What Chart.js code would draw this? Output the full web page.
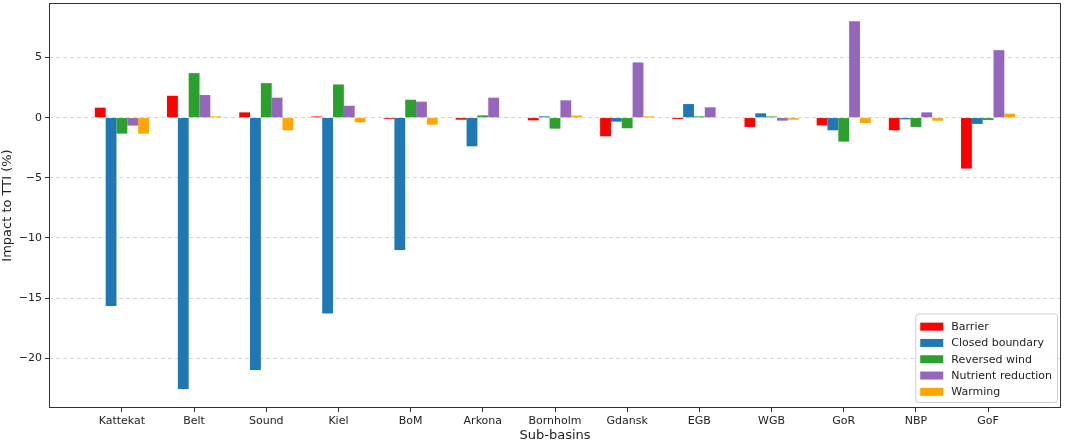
<!DOCTYPE html>
<html>
<head>
<meta charset="utf-8">
<script src="https://cdn.jsdelivr.net/npm/chart.js@4.4.1/dist/chart.umd.min.js"></script>
<style>
  html, body { margin: 0; padding: 0; background: #fff; }
</style>
</head>
<body>
<canvas id="ttiChart" width="1065" height="443"></canvas>
<script>
const subBasins = ["Kattekat", "Belt", "Sound", "Kiel", "BoM", "Arkona", "Bornholm",
  "Gdansk", "EGB", "WGB", "GoR", "NBP", "GoF"];

const barrier         = [0.83, 1.82, 0.44, 0.10, -0.10, -0.17, -0.22, -1.55, -0.11, -0.77, -0.64, -1.05, -4.23];
const closedBoundary  = [-15.65, -22.55, -20.98, -16.28, -11.0, -2.38, 0.11, -0.33, 1.13, 0.36, -1.05, -0.14, -0.52];
const reversedWind    = [-1.33, 3.70, 2.87, 2.76, 1.49, 0.19, -0.91, -0.88, 0.11, 0.10, -1.99, -0.77, -0.19];
const nutrientReduct  = [-0.66, 1.88, 1.66, 0.99, 1.33, 1.66, 1.44, 4.59, 0.86, -0.25, 8.01, 0.44, 5.61];
const warming         = [-1.33, 0.11, -1.05, -0.39, -0.58, 0.02, 0.17, 0.11, 0.03, -0.17, -0.44, -0.25, 0.33];

const yTicks = [-20, -15, -10, -5, 0, 5];

const seriesColors = {
  Barrier: "#ff0000",
  "Closed boundary": "#1f77b4",
  "Reversed wind": "#2ca02c",
  "Nutrient reduction": "#9467bd",
  Warming: "#ffa500"
};

const FONT = "'DejaVu Sans', sans-serif";

function toPoints(values) {
  return values.map((v, i) => ({ x: i, y: v }));
}

function makeDataset(label, values) {
  return {
    label,
    data: toPoints(values),
    backgroundColor: seriesColors[label],
    borderWidth: 0,
    categoryPercentage: 0.75,
    barPercentage: 1.0
  };
}

// box around the plot like matplotlib spines
const framePlugin = {
  id: "frame",
  afterDatasetsDraw(chart) {
    const { ctx, chartArea: a } = chart;
    ctx.save();
    ctx.strokeStyle = "#333";
    ctx.lineWidth = 1;
    ctx.strokeRect(a.left + 0.5, a.top + 0.5, a.right - a.left - 1, a.bottom - a.top - 1);
    ctx.restore();
  }
};

// legend inside the lower right corner
const boxLegend = {
  id: "boxLegend",
  afterDraw(chart) {
    const { ctx, chartArea: a } = chart;
    const sets = chart.data.datasets;
    ctx.save();
    ctx.font = `11px ${FONT}`;
    const maxText = Math.max(...sets.map(d => ctx.measureText(d.label).width));
    const pad = 5, sw = 23, sh = 8, gap = 8, rowH = 16.3;
    const w = pad + sw + gap + maxText + pad;
    const h = pad + rowH * sets.length + 2;
    const x0 = a.right - 4 - w;
    const y0 = a.bottom - 6 - h;

    ctx.fillStyle = "rgba(255,255,255,0.85)";
    ctx.strokeStyle = "#cccccc";
    ctx.lineWidth = 1;
    ctx.beginPath();
    ctx.roundRect(x0 + 0.5, y0 + 0.5, w, h, 3);
    ctx.fill();
    ctx.stroke();

    ctx.textBaseline = "middle";
    sets.forEach((d, i) => {
      const cy = y0 + pad + rowH * i + rowH / 2;
      ctx.fillStyle = d.backgroundColor;
      ctx.fillRect(x0 + pad, cy - sh / 2, sw, sh);
      ctx.fillStyle = "#222";
      ctx.fillText(d.label, x0 + pad + sw + gap, cy + 0.5);
    });
    ctx.restore();
  }
};

new Chart(document.getElementById("ttiChart"), {
  type: "bar",
  data: {
    datasets: [
      makeDataset("Barrier", barrier),
      makeDataset("Closed boundary", closedBoundary),
      makeDataset("Reversed wind", reversedWind),
      makeDataset("Nutrient reduction", nutrientReduct),
      makeDataset("Warming", warming)
    ]
  },
  options: {
    responsive: false,
    animation: false,
    layout: { padding: { top: 3, right: 4, left: 0, bottom: 0 } },
    plugins: {
      legend: { display: false },
      tooltip: { enabled: false }
    },
    scales: {
      x: {
        type: "linear",
        offset: false,
        min: -1.01,
        max: 13.01,
        afterBuildTicks: scale => {
          scale.ticks = subBasins.map((_, i) => ({ value: i }));
        },
        afterFit: scale => {
          scale.height = 35;
          scale.paddingLeft = 0;
          scale.paddingRight = 0;
        },
        ticks: {
          autoSkip: false,
          maxRotation: 0,
          padding: 3,
          color: "#222",
          font: { family: FONT, size: 11 },
          callback: value => subBasins[value]
        },
        grid: {
          offset: false,
          drawOnChartArea: false,
          drawTicks: true,
          tickLength: 4,
          tickColor: "#333"
        },
        border: { display: false },
        title: {
          display: true,
          text: "Sub-basins",
          color: "#222",
          font: { family: FONT, size: 13 },
          padding: { top: 0, bottom: 0 }
        }
      },
      y: {
        min: -24.13,
        max: 9.53,
        afterBuildTicks: scale => {
          scale.ticks = yTicks.map(v => ({ value: v }));
        },
        afterFit: scale => {
          scale.width = 49;
          scale.paddingTop = 0;
          scale.paddingBottom = 0;
        },
        ticks: {
          padding: 3,
          color: "#222",
          font: { family: FONT, size: 11 },
          callback: value => String(value).replace("-", "\u2212")
        },
        grid: {
          color: "#cccccc",
          lineWidth: 0.8,
          tickLength: 4,
          tickColor: "#333",
          tickWidth: 1,
          tickBorderDash: []
        },
        border: { display: false, dash: [4, 3] },
        title: {
          display: true,
          text: "Impact to TTI (%)",
          color: "#222",
          font: { family: FONT, size: 13 },
          padding: { top: 0, bottom: 2 }
        }
      }
    }
  },
  plugins: [framePlugin, boxLegend]
});
</script>
</body>
</html>
